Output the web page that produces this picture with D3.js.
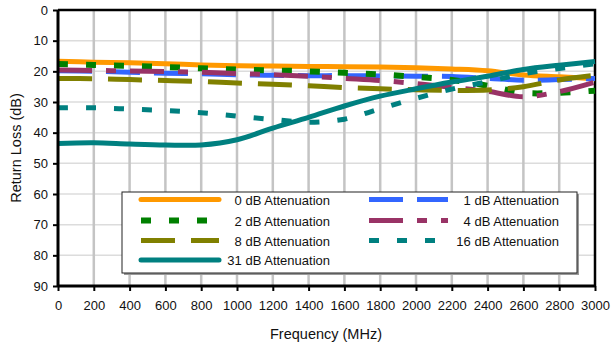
<!DOCTYPE html>
<html>
<head>
<meta charset="utf-8">
<script src="https://cdn.jsdelivr.net/npm/d3@7"></script>
<style>
  body { margin: 0; background: #fff; }
  svg { display: block; font-family: "Liberation Sans", Arial, sans-serif; }
</style>
</head>
<body>
<svg id="chart" width="611" height="345"></svg>
<script>
// Frequency points (MHz)
const freqs = [0, 200, 400, 600, 800, 1000, 1200, 1400, 1600, 1800, 2000, 2200, 2400, 2600, 2800, 3000];

// Return loss (dB) per attenuation setting
const att0  = [16.7, 17.0, 17.2, 17.5, 17.9, 18.2, 18.3, 18.4, 18.5, 18.6, 18.8, 19.2, 19.8, 21.2, 21.8, 22.4];
const att1  = [19.8, 20.0, 20.3, 20.6, 20.8, 21.1, 21.3, 21.4, 21.4, 21.5, 21.6, 21.7, 22.3, 22.9, 22.7, 22.3];
const att2  = [17.6, 17.9, 18.2, 18.6, 19.0, 19.4, 19.7, 20.0, 20.5, 21.0, 21.8, 22.8, 24.7, 27.0, 27.0, 26.3];
const att4  = [19.6, 19.7, 19.9, 20.1, 20.3, 20.7, 21.1, 21.6, 22.3, 23.0, 24.0, 25.2, 26.5, 28.3, 26.6, 23.5];
const att8  = [22.3, 22.4, 22.7, 23.0, 23.3, 23.8, 24.2, 24.7, 25.3, 25.7, 26.0, 26.2, 26.1, 25.0, 22.8, 21.3];
const att16 = [31.9, 31.9, 32.3, 32.8, 33.5, 34.6, 35.7, 36.6, 35.6, 32.2, 28.8, 25.8, 23.4, 20.8, 19.1, 17.5];
const att31 = [43.5, 43.3, 43.7, 44.0, 44.0, 42.3, 38.5, 35.0, 31.3, 28.1, 25.7, 23.5, 21.6, 19.4, 18.0, 16.8];

const seriesNames = ["0 dB Attenuation", "1 dB Attenuation", "2 dB Attenuation", "4 dB Attenuation",
                     "8 dB Attenuation", "16 dB Attenuation", "31 dB Attenuation"];

const xTicks = d3.range(0, 3001, 200);
const yTicks = d3.range(0, 91, 10);

const series = [
  { name: seriesNames[0], values: att0,  color: "#ff9900", dash: null,          width: 5 },
  { name: seriesNames[1], values: att1,  color: "#3366ff", dash: "34,14",       width: 5 },
  { name: seriesNames[2], values: att2,  color: "#008000", dash: "10,18",       width: 6 },
  { name: seriesNames[3], values: att4,  color: "#993366", dash: "34,14,10,14", width: 5 },
  { name: seriesNames[4], values: att8,  color: "#808000", dash: "34,16",       width: 5 },
  { name: seriesNames[5], values: att16, color: "#008080", dash: "10,18",       width: 5 },
  { name: seriesNames[6], values: att31, color: "#008080", dash: null,          width: 5 }
];

const svg = d3.select("#chart");
const plotL = 58, plotR = 595, plotT = 10, plotB = 286;

const x = d3.scaleLinear().domain([0, 3000]).range([plotL, plotR]);
const y = d3.scaleLinear().domain([0, 90]).range([plotT, plotB]);

// Horizontal gridlines
svg.append("g").selectAll("line").data(yTicks.slice(1, -1)).join("line")
  .attr("x1", plotL).attr("x2", plotR)
  .attr("y1", d => y(d)).attr("y2", d => y(d))
  .attr("stroke", "#dcdcdc").attr("stroke-width", 1.5);

// Vertical gridlines
svg.append("g").selectAll("line").data(xTicks.slice(1, -1)).join("line")
  .attr("x1", d => x(d)).attr("x2", d => x(d))
  .attr("y1", plotT).attr("y2", plotB)
  .attr("stroke", "#c4c4c4").attr("stroke-width", 2.5);

// Plot frame: top and right edges
svg.append("path")
  .attr("d", `M${plotL},${plotT}H${plotR}V${plotB}`)
  .attr("fill", "none").attr("stroke", "#000").attr("stroke-width", 2.5);

// Data lines
const line = d3.line()
  .x((d, i) => x(freqs[i]))
  .y(d => y(d))
  .curve(d3.curveCatmullRom.alpha(0.5));

const plot = svg.append("g");
plot.selectAll("path").data(series).join("path")
  .attr("d", s => line(s.values))
  .attr("fill", "none")
  .attr("stroke", s => s.color)
  .attr("stroke-width", s => s.width)
  .attr("stroke-dasharray", s => s.dash)
  .attr("stroke-linejoin", "round");

// Axes
const xAxis = d3.axisBottom(x).tickValues(xTicks).tickSize(5).tickPadding(10).tickFormat(d3.format("d"));
const yAxis = d3.axisLeft(y).tickValues(yTicks).tickSize(5).tickPadding(5).tickFormat(d3.format("d"));

const gx = svg.append("g").attr("transform", `translate(0,${plotB})`).call(xAxis);
const gy = svg.append("g").attr("transform", `translate(${plotL},0)`).call(yAxis);

[gx, gy].forEach(g => {
  g.select(".domain").attr("stroke", "#000").attr("stroke-width", 3);
  g.selectAll(".tick line").attr("stroke", "#000").attr("stroke-width", 2);
  g.selectAll(".tick text").attr("fill", "#111").style("font-size", "13px")
    .style("font-family", "'Liberation Sans', Arial, sans-serif");
});
gx.select(".domain").attr("d", `M${plotL},0H${plotR}`);
gy.select(".domain").attr("d", `M0,${plotT}V${plotB}`);

// Axis titles
svg.append("text")
  .attr("x", 326).attr("y", 339)
  .attr("text-anchor", "middle")
  .style("font-size", "14.5px").attr("fill", "#111")
  .text("Frequency (MHz)");

svg.append("text")
  .attr("transform", "translate(21,148) rotate(-90)")
  .attr("text-anchor", "middle")
  .style("font-size", "14.5px").attr("fill", "#111")
  .text("Return Loss (dB)");

// Legend
const legend = svg.append("g");
legend.append("rect")
  .attr("x", 124).attr("y", 194).attr("width", 455).attr("height", 81)
  .attr("fill", "#999");
legend.append("rect")
  .attr("x", 122).attr("y", 192).attr("width", 455).attr("height", 81)
  .attr("fill", "#fff").attr("stroke", "#222").attr("stroke-width", 1);

const rowsY = [199.5, 220.5, 240.5, 260];
series.forEach((s, k) => {
  const col = k % 2, row = Math.floor(k / 2);
  const lx0 = col === 0 ? 141 : 369;
  const lx1 = col === 0 ? 219 : 448;
  const tx  = col === 0 ? 330 : 559;
  const ly = rowsY[row];
  legend.append("line")
    .attr("x1", lx0).attr("x2", lx1).attr("y1", ly).attr("y2", ly)
    .attr("stroke", s.color).attr("stroke-width", s.width)
    .attr("stroke-linecap", s.dash ? "butt" : "round")
    .attr("stroke-dasharray", s.dash);
  legend.append("text")
    .attr("x", tx).attr("y", ly + 5)
    .attr("text-anchor", "end")
    .style("font-size", "13px").attr("fill", "#111")
    .text(s.name);
});
</script>
</body>
</html>
